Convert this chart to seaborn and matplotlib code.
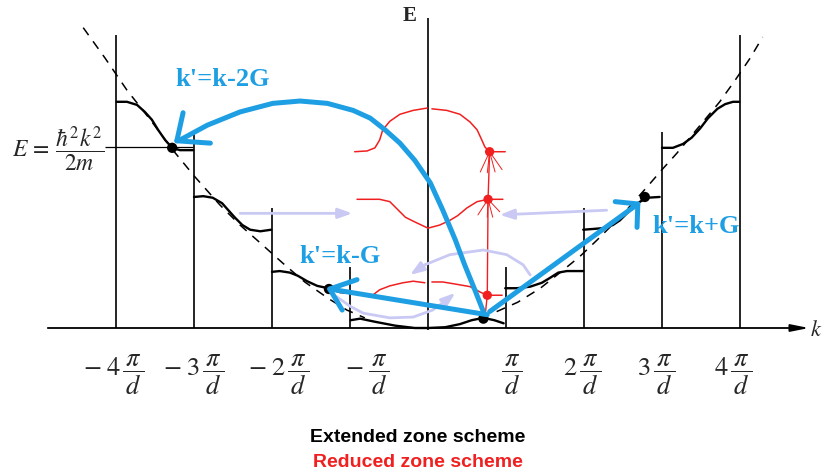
import matplotlib
matplotlib.use("Agg")
import matplotlib.pyplot as plt
import seaborn as sns

# k in units of pi/d, E in arbitrary units

# zone boundary lines
zone_k = [-4, -3, -2, -1, 1, 2, 3, 4]
zone_top = [3.76, 2.51, 1.54, 0.78, 0.78, 1.54, 2.51, 3.76]

# free electron parabola (dashed)
para_left_k = [-4.42, -4.14, -3.86, -3.56, -3.27, -2.99, -2.67, -2.41, -2.15, -1.86, -1.58, -1.28, -1.04, -0.81]
para_left_E = [3.85, 3.46, 3.05, 2.67, 2.28, 1.94, 1.58, 1.32, 1.09, 0.83, 0.59, 0.38, 0.23, 0.13]
para_right_k = [0.88, 1.15, 1.44, 1.73, 1.95, 2.17, 2.49, 2.81, 3.0, 3.19, 3.49, 3.74, 3.94, 4.13, 4.29]
para_right_E = [0.21, 0.33, 0.51, 0.74, 0.92, 1.13, 1.45, 1.81, 2.03, 2.24, 2.60, 2.90, 3.18, 3.46, 3.73]

# extended zone bands
b4l_k = [-3.99, -3.86, -3.73, -3.63, -3.54, -3.46, -3.37, -3.28, -3.18, -3.01]
b4l_E = [2.90, 2.90, 2.86, 2.77, 2.67, 2.54, 2.41, 2.31, 2.28, 2.28]
b3l_k = [-3.0, -2.88, -2.76, -2.64, -2.56, -2.47, -2.38, -2.28, -2.15, -2.01]
b3l_E = [1.68, 1.69, 1.67, 1.60, 1.51, 1.41, 1.32, 1.26, 1.24, 1.26]
b2l_k = [-2.0, -1.90, -1.77, -1.67, -1.55, -1.42, -1.28, -1.13, -1.01]
b2l_E = [0.72, 0.73, 0.71, 0.67, 0.60, 0.54, 0.51, 0.46, 0.45]
b1_k = [-0.99, -0.87, -0.68, -0.42, -0.17, 0.0, 0.22, 0.41, 0.56, 0.71, 0.85, 0.97]
b1_E = [0.10, 0.12, 0.08, 0.03, 0.0, 0.0, 0.01, 0.05, 0.10, 0.13, 0.10, 0.06]
b2r_k = [0.99, 1.14, 1.31, 1.46, 1.56, 1.67, 1.78, 1.91, 1.99]
b2r_E = [0.51, 0.51, 0.53, 0.58, 0.64, 0.71, 0.73, 0.73, 0.73]
b3r_k = [1.99, 2.12, 2.24, 2.37, 2.46, 2.55, 2.63, 2.72, 2.81, 2.97]
b3r_E = [1.26, 1.27, 1.28, 1.32, 1.38, 1.47, 1.55, 1.62, 1.67, 1.68]
b4r_k = [3.0, 3.14, 3.27, 3.38, 3.49, 3.59, 3.71, 3.81, 3.91, 3.99]
b4r_E = [2.31, 2.31, 2.36, 2.44, 2.56, 2.69, 2.81, 2.87, 2.90, 2.90]

# states marked on the bands
dot_k = [-3.28, -1.27, 0.71, 2.78]
dot_E = [2.31, 0.50, 0.12, 1.68]

# reduced zone bands (red)
r4l_k = [-0.94, -0.78, -0.68, -0.62, -0.58, -0.49, -0.36, -0.19, -0.01]
r4l_E = [2.26, 2.27, 2.31, 2.41, 2.54, 2.65, 2.74, 2.79, 2.82]
r4r_k = [0.05, 0.24, 0.41, 0.54, 0.63, 0.69, 0.73, 0.79, 0.99]
r4r_E = [2.81, 2.79, 2.74, 2.64, 2.54, 2.41, 2.32, 2.26, 2.26]
r3_k = [-0.91, -0.62, -0.49, -0.38, -0.29, -0.17, 0.0, 0.15, 0.28, 0.38, 0.50, 0.63, 0.77, 0.96]
r3_E = [1.65, 1.65, 1.62, 1.51, 1.42, 1.36, 1.28, 1.32, 1.38, 1.44, 1.54, 1.62, 1.65, 1.65]
r2l_k = [-0.71, -0.62, -0.49, -0.32, -0.19, -0.04]
r2l_E = [0.42, 0.49, 0.54, 0.58, 0.60, 0.58]
r2r_k = [0.05, 0.19, 0.37, 0.54, 0.67, 0.76, 0.95]
r2r_E = [0.59, 0.59, 0.56, 0.53, 0.46, 0.42, 0.42]
rdot_k = [0.79, 0.77, 0.76]
rdot_E = [2.26, 1.65, 0.42]
rline_k = [0.79, 0.77, 0.76, 0.73]
rline_E = [2.26, 1.65, 0.42, 0.13]
spk_top_k = [0.67, 0.76, 0.86, 0.95]
spk_top_E = [2.00, 1.99, 2.00, 2.03]
spk_mid_k = [0.64, 0.76, 0.83, 0.92]
spk_mid_E = [1.45, 1.42, 1.42, 1.49]

# blue umklapp arrows
kG_k = [0.76, -1.26]
kG_E = [0.17, 0.50]
kG_head_k = [-0.91, -1.26, -1.10]
kG_head_E = [0.62, 0.50, 0.23]
kpG_k = [0.79, 2.69]
kpG_E = [0.21, 1.59]
kpG_head_k = [2.40, 2.69, 2.68]
kpG_head_E = [1.62, 1.59, 1.29]
k2G_k = [0.71, 0.60, 0.47, 0.35, 0.19, 0.03, -0.17, -0.36, -0.55, -0.74, -0.96, -1.29, -1.64, -1.99, -2.41, -2.83, -3.18, -3.22]
k2G_E = [0.21, 0.49, 0.81, 1.13, 1.51, 1.86, 2.15, 2.37, 2.54, 2.69, 2.79, 2.88, 2.91, 2.88, 2.77, 2.60, 2.41, 2.40]
k2G_head_k = [-3.14, -3.22, -2.79]
k2G_head_E = [2.76, 2.40, 2.37]

# light arrows (folding into first zone)
arc_up_k = [1.31, 1.22, 1.01, 0.71, 0.28, -0.04, -0.23]
arc_up_E = [0.68, 0.81, 0.94, 1.00, 0.94, 0.81, 0.68]
arc_lo_k = [-1.17, -1.0, -0.83, -0.49, -0.19, 0.06, 0.24, 0.35]
arc_lo_E = [0.40, 0.28, 0.19, 0.13, 0.14, 0.23, 0.36, 0.45]
fold_left_k = [-2.41, -0.97]
fold_left_E = [1.47, 1.47]
fold_right_k = [2.29, 0.92]
fold_right_E = [1.51, 1.45]

tick_labels = [r"$-\;4\,\dfrac{\,\pi\,}{d}$", r"$-\;3\,\dfrac{\,\pi\,}{d}$", r"$-\;2\,\dfrac{\,\pi\,}{d}$",
               r"$-\;\dfrac{\,\pi\,}{d}$", r"$\dfrac{\,\pi\,}{d}$", r"$2\,\dfrac{\,\pi\,}{d}$",
               r"$3\,\dfrac{\,\pi\,}{d}$", r"$4\,\dfrac{\,\pi\,}{d}$"]
tick_pos = [-4.03, -3.01, -1.92, -0.78, 1.08, 1.97, 2.92, 3.91]

sns.set_theme(style="white")
plt.rcParams["mathtext.fontset"] = "stix"
plt.rcParams["font.family"] = ["DejaVu Sans"]

BLUE = "#1E9FE3"
RED = "#F02020"
LAV = "#C9C9F4"

fig = plt.figure(figsize=(8.25, 4.74), dpi=100)
ax = fig.add_axes([0, 0, 1, 1])
ax.set_xlim(-428 / 78, (825 - 428) / 78)
ax.set_ylim((328 - 474) / 78, 328 / 78)
ax.axis("off")

# axes of the diagram
ax.vlines(0, -0.03, 3.97, color="black", lw=1.2)
ax.annotate("", xy=(4.92, 0), xytext=(-4.91, 0),
            arrowprops=dict(arrowstyle="-|>,head_length=0.9,head_width=0.18", lw=1.3, color="black"))
ax.vlines(zone_k, 0, zone_top, color="black", lw=1.2)
ax.hlines(2.32, -4.14, -3.01, color="black", lw=0.9)

ax.plot(para_left_k, para_left_E, color="black", lw=1.1, dashes=(6, 5))
ax.plot(para_right_k, para_right_E, color="black", lw=1.1, dashes=(6, 5))

for bk, be in [(b4l_k, b4l_E), (b3l_k, b3l_E), (b2l_k, b2l_E), (b1_k, b1_E),
               (b2r_k, b2r_E), (b3r_k, b3r_E), (b4r_k, b4r_E)]:
    sns.lineplot(x=bk, y=be, sort=False, estimator=None, color="black", lw=1.7, ax=ax)

sns.scatterplot(x=dot_k, y=dot_E, color="black", s=55, edgecolor="none", ax=ax, zorder=5)

# reduced zone scheme
for rk, re in [(r4l_k, r4l_E), (r4r_k, r4r_E), (r3_k, r3_E), (r2l_k, r2l_E), (r2r_k, r2r_E)]:
    sns.lineplot(x=rk, y=re, sort=False, estimator=None, color=RED, lw=1.1, ax=ax)
ax.plot(rline_k, rline_E, color=RED, lw=1.0)
for i in range(len(spk_top_k)):
    ax.plot([rdot_k[0], spk_top_k[i]], [rdot_E[0], spk_top_E[i]], color=RED, lw=0.7)
    ax.plot([rdot_k[1], spk_mid_k[i]], [rdot_E[1], spk_mid_E[i]], color=RED, lw=0.7)
sns.scatterplot(x=rdot_k, y=rdot_E, color=RED, s=45, edgecolor="none", ax=ax, zorder=5)

# light folding arrows
for fk, fe in [(fold_left_k, fold_left_E), (fold_right_k, fold_right_E),
               (arc_up_k, arc_up_E), (arc_lo_k, arc_lo_E)]:
    ax.plot(fk[:-1], fe[:-1], color=LAV, lw=2.0, solid_capstyle="round")
    ax.annotate("", xy=(fk[-1], fe[-1]), xytext=(fk[-2], fe[-2]),
                arrowprops=dict(arrowstyle="-|>,head_length=0.7,head_width=0.25",
                                lw=2.0, color=LAV, shrinkA=0, shrinkB=0))

# blue arrows
for ak, ae in [(kG_k, kG_E), (kG_head_k, kG_head_E), (kpG_k, kpG_E), (kpG_head_k, kpG_head_E),
               (k2G_k, k2G_E), (k2G_head_k, k2G_head_E)]:
    ax.plot(ak, ae, color=BLUE, lw=3.6, solid_capstyle="round", solid_joinstyle="round", zorder=6)

blue_font = dict(family="Liberation Serif", weight="bold", size=19, color=BLUE)
ax.text(-2.63, 3.18, "k'=k-2G", ha="center", va="center", **blue_font)
ax.text(-1.13, 0.92, "k'=k-G", ha="center", va="center", **blue_font)
ax.text(2.87, 1.30, "k'=k+G", ha="left", va="center", **blue_font)

# labels
for pos, lab in zip(tick_pos, tick_labels):
    ax.text(pos, -0.6, lab, ha="center", va="center", fontsize=19)
ax.text(-4.74, 2.30, r"$E\,=\,\dfrac{\hbar^2k^2}{2m}$", ha="center", va="center", fontsize=17)
ax.text(-0.23, 4.0, "E", ha="center", va="center", family="Liberation Serif", weight="bold", size=15)
ax.text(4.98, -0.03, r"$k$", ha="center", va="center", fontsize=16)

ax.text(-0.13, -1.41, "Extended zone scheme", ha="center", va="center",
        family="Liberation Sans", weight="bold", size=14, color="black")
ax.text(-0.13, -1.73, "Reduced zone scheme", ha="center", va="center",
        family="Liberation Sans", weight="bold", size=14, color=RED)

fig.savefig("out.png", dpi=100)
